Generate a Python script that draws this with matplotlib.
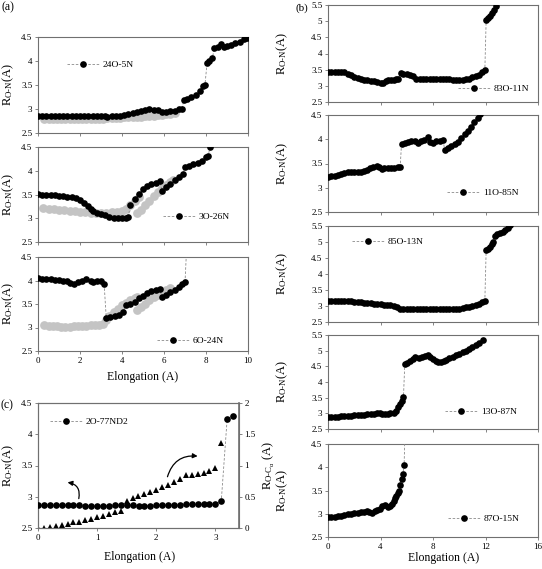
import numpy as np
import matplotlib
matplotlib.use("Agg")
import matplotlib.pyplot as plt
from matplotlib.ticker import FuncFormatter

plt.rcParams['font.family'] = ['Liberation Serif', 'DejaVu Serif']
plt.rcParams['mathtext.fontset'] = 'custom'
plt.rcParams['mathtext.rm'] = 'Liberation Serif'
plt.rcParams['mathtext.it'] = 'Liberation Serif:italic'

# ---------------- data ----------------
# (a) top: 24O-5N
a1_x = [0, 0.2, 0.4, 0.6, 0.8, 1.0, 1.2, 1.4, 1.6, 1.8, 2.0, 2.2, 2.4, 2.6, 2.8, 3.0, 3.2, 3.3, 3.5, 3.7,
        3.9, 4.1, 4.3, 4.5, 4.7, 4.9, 5.1, 5.3, 5.5, 5.7, 5.9, 6.1, 6.3, 6.5, 6.7, 6.85,
        6.95, 7.1, 7.3, 7.5, 7.7, 7.85, 7.95,
        8.05, 8.15, 8.3, 8.4, 8.55, 8.7, 8.85, 9.0, 9.2, 9.4, 9.6, 9.8, 9.95]
a1_y = [2.85, 2.85, 2.85, 2.85, 2.85, 2.85, 2.85, 2.85, 2.85, 2.85, 2.85, 2.85, 2.85, 2.85, 2.85, 2.85, 2.85, 2.84, 2.85, 2.85,
        2.86, 2.87, 2.90, 2.92, 2.94, 2.96, 2.97, 2.99, 2.98, 2.97, 2.93, 2.93, 2.95, 2.96, 2.99, 3.01,
        3.19, 3.21, 3.25, 3.30, 3.38, 3.47, 3.50,
        3.96, 4.00, 4.06, 4.27, 4.30, 4.36, 4.30, 4.31, 4.34, 4.37, 4.40, 4.45, 4.48]
a1_gx = [0.3, 0.5, 0.7, 0.9, 1.1, 1.3, 1.5, 1.7, 1.9, 2.1, 2.3, 2.5, 2.7, 2.9, 3.1, 3.3, 3.5, 3.7, 3.9, 4.1,
         4.3, 4.5, 4.7, 4.9, 5.1, 5.3, 5.5, 5.7, 5.9, 6.1, 6.3, 6.5]
a1_gy = [2.79, 2.79, 2.79, 2.79, 2.79, 2.79, 2.80, 2.80, 2.80, 2.80, 2.80, 2.80, 2.80, 2.80, 2.80, 2.81, 2.81, 2.81, 2.82, 2.83,
         2.84, 2.83, 2.83, 2.84, 2.85, 2.85, 2.86, 2.87, 2.88, 2.89, 2.90, 2.92]

# (a) middle: 3O-26N
a2_x = [0, 0.2, 0.4, 0.6, 0.8, 1.0, 1.2, 1.4, 1.6, 1.8, 2.0, 2.2, 2.4, 2.5, 2.6, 2.8, 3.0, 3.2, 3.4, 3.6,
        3.8, 4.0, 4.2, 4.3,
        4.4, 4.6, 4.8, 5.0, 5.2, 5.4, 5.6, 5.8,
        5.9, 6.1, 6.3, 6.5, 6.7, 6.9, 7.0, 7.2, 7.4, 7.6, 7.8, 8.0, 8.1, 8.2]
a2_y = [3.51, 3.50, 3.50, 3.49, 3.48, 3.47, 3.46, 3.45, 3.44, 3.42, 3.38, 3.32, 3.25, 3.20, 3.16, 3.12, 3.09, 3.06, 3.03, 3.00,
        3.00, 3.00, 3.01, 3.03,
        3.28, 3.40, 3.52, 3.62, 3.68, 3.73, 3.75, 3.79,
        3.58, 3.65, 3.72, 3.80, 3.87, 3.94, 4.07, 4.10, 4.14, 4.17, 4.20, 4.28, 4.32, 4.50]
a2_g1x = [0.25, 0.5, 0.75, 1.0, 1.25, 1.5, 1.75, 2.0, 2.25, 2.5, 2.75, 3.0, 3.25, 3.5, 3.75, 4.0, 4.2, 4.4, 4.6, 4.8]
a2_g1y = [3.22, 3.20, 3.19, 3.18, 3.17, 3.16, 3.15, 3.14, 3.13, 3.12, 3.12, 3.12, 3.12, 3.13, 3.14, 3.16, 3.20, 3.28, 3.36, 3.44]
a2_g2x = [4.7, 4.9, 5.1, 5.3, 5.5, 5.7, 5.9, 6.1, 6.3, 6.45]
a2_g2y = [3.12, 3.18, 3.27, 3.37, 3.46, 3.55, 3.63, 3.70, 3.76, 3.80]

# (a) bottom: 6O-24N
a3_x = [0, 0.2, 0.4, 0.6, 0.8, 1.0, 1.2, 1.4, 1.5, 1.7, 1.9, 2.1, 2.3, 2.5, 2.6, 2.8, 3.0, 3.15,
        3.25, 3.45, 3.65, 3.85, 4.05,
        4.2, 4.4, 4.6, 4.8, 5.0, 5.2, 5.4, 5.6, 5.8,
        5.9, 6.1, 6.3, 6.5, 6.7, 6.85, 7.0, 7.1]
a3_y = [4.05, 4.04, 4.04, 4.03, 4.02, 4.01, 4.00, 3.98, 3.94, 3.93, 3.96, 4.00, 4.03, 4.00, 3.96, 3.98, 4.00, 3.92,
        3.20, 3.22, 3.25, 3.27, 3.33,
        3.48, 3.50, 3.55, 3.62, 3.68, 3.73, 3.78, 3.80, 3.82,
        3.65, 3.70, 3.76, 3.80, 3.87, 3.92, 3.96, 4.90]
a3_g1x = [0.3, 0.5, 0.7, 0.9, 1.1, 1.3, 1.5, 1.7, 1.9, 2.1, 2.3, 2.5, 2.7, 2.9, 3.1, 3.25, 3.4, 3.6, 3.8, 4.0,
          4.2, 4.4, 4.6, 4.7]
a3_g1y = [3.05, 3.04, 3.03, 3.03, 3.02, 3.02, 3.02, 3.03, 3.03, 3.04, 3.04, 3.05, 3.05, 3.06, 3.08, 3.15, 3.25, 3.33, 3.40, 3.47,
          3.53, 3.58, 3.63, 3.65]
a3_g2x = [4.7, 4.9, 5.1, 5.3, 5.5, 5.7, 5.9, 6.1, 6.3]
a3_g2y = [3.37, 3.44, 3.51, 3.58, 3.65, 3.70, 3.75, 3.79, 3.84]

# (c) 2O-77ND2 and R_O-Calpha
c_x = [0, 0.1, 0.2, 0.3, 0.4, 0.5, 0.6, 0.7, 0.8, 0.9, 1.0, 1.1, 1.2, 1.3, 1.4, 1.5, 1.6, 1.7, 1.8, 1.9,
       2.0, 2.1, 2.2, 2.3, 2.4, 2.5, 2.6, 2.7, 2.8, 2.9, 3.0, 3.1, 3.2, 3.3]
c_y = [2.87, 2.87, 2.87, 2.87, 2.87, 2.87, 2.87, 2.87, 2.86, 2.85, 2.86, 2.85, 2.86, 2.87, 2.87, 2.87, 2.87, 2.86, 2.86, 2.86,
       2.87, 2.87, 2.87, 2.87, 2.87, 2.88, 2.88, 2.88, 2.88, 2.88, 2.88, 2.93, 4.25, 4.29]
c_tx = [0, 0.1, 0.2, 0.3, 0.4, 0.5, 0.6, 0.7, 0.8, 0.9, 1.0, 1.1, 1.2, 1.3, 1.4, 1.5, 1.6, 1.7, 1.8, 1.9,
        2.0, 2.1, 2.2, 2.3, 2.4, 2.5, 2.6, 2.7, 2.8, 2.9, 3.0, 3.1]
c_ty = [0.0, 0.0, 0.01, 0.03, 0.055, 0.07, 0.09, 0.10, 0.13, 0.15, 0.17, 0.19, 0.22, 0.25, 0.28, 0.43, 0.475, 0.52, 0.55, 0.58,
        0.61, 0.65, 0.69, 0.74, 0.79, 0.85, 0.85, 0.86, 0.875, 0.92, 0.955, 1.355]

# (b) 83O-11N
b1_x = [0, 0.25, 0.5, 0.75, 1.0, 1.25, 1.5, 1.75, 2.0, 2.25, 2.5, 2.75, 3.0, 3.25, 3.5, 3.75, 4.0, 4.2, 4.4, 4.6,
        4.8, 5.0, 5.2, 5.35,
        5.55, 5.75, 6.0, 6.25, 6.5, 6.7, 7.0, 7.25, 7.5, 7.75, 8.0, 8.25, 8.5, 8.75, 9.0, 9.25,
        9.5, 9.75, 10.0, 10.25, 10.5, 10.75, 11.0, 11.25, 11.5, 11.75, 11.95,
        12.05, 12.2, 12.35, 12.5, 12.65, 12.8]
b1_y = [3.44, 3.44, 3.44, 3.44, 3.44, 3.43, 3.38, 3.32, 3.28, 3.25, 3.22, 3.19, 3.17, 3.15, 3.14, 3.12, 3.10, 3.10, 3.16, 3.18,
        3.18, 3.19, 3.20, 3.21,
        3.41, 3.38, 3.36, 3.34, 3.30, 3.22, 3.21, 3.21, 3.21, 3.22, 3.22, 3.21, 3.21, 3.22, 3.21, 3.20,
        3.19, 3.19, 3.19, 3.19, 3.20, 3.22, 3.26, 3.30, 3.35, 3.42, 3.49,
        5.03, 5.10, 5.17, 5.24, 5.35, 5.48]

# (b) 11O-85N
b2_x = [0, 0.25, 0.5, 0.75, 1.0, 1.25, 1.5, 1.75, 2.0, 2.25, 2.5, 2.75, 3.0, 3.2, 3.45, 3.7, 3.9, 4.1, 4.3, 4.55,
        4.8, 5.05, 5.3, 5.5,
        5.6, 5.85, 6.1, 6.35, 6.6, 6.85, 7.1, 7.35, 7.6, 7.8, 8.0, 8.25, 8.5, 8.75,
        8.9, 9.15, 9.4, 9.65, 9.9, 10.15, 10.4, 10.65, 10.9, 11.15, 11.4, 11.6]
b2_y = [3.23, 3.24, 3.25, 3.27, 3.29, 3.30, 3.32, 3.33, 3.33, 3.33, 3.33, 3.34, 3.36, 3.41, 3.43, 3.45, 3.42, 3.38, 3.40, 3.41,
        3.41, 3.41, 3.42, 3.43,
        3.90, 3.93, 3.94, 3.96, 3.97, 3.93, 3.96, 3.99, 4.04, 3.95, 3.93, 3.96, 3.97, 3.99,
        3.78, 3.82, 3.86, 3.90, 3.95, 4.02, 4.10, 4.18, 4.26, 4.35, 4.44, 4.52]

# (b) 85O-13N
b3_x = [0, 0.25, 0.5, 0.75, 1.0, 1.25, 1.5, 1.75, 2.0, 2.25, 2.5, 2.75, 3.0, 3.25, 3.5, 3.75, 4.0, 4.25, 4.5, 4.75,
        5.0, 5.25, 5.5, 5.75, 6.0, 6.25, 6.5, 6.75, 7.0, 7.25, 7.5, 7.75, 8.0, 8.25, 8.5, 8.75, 9.0, 9.25, 9.5, 9.75,
        10.0, 10.25, 10.5, 10.75, 11.0, 11.25, 11.5, 11.75, 11.95,
        12.05, 12.2, 12.35, 12.5, 12.6, 12.75, 12.9, 13.1, 13.3, 13.5, 13.7, 13.9]
b3_y = [3.16, 3.16, 3.16, 3.16, 3.16, 3.16, 3.16, 3.16, 3.14, 3.11, 3.11, 3.10, 3.09, 3.08, 3.07, 3.06, 3.05, 3.04, 3.03, 3.02,
        3.00, 2.96, 2.92, 2.92, 2.92, 2.92, 2.92, 2.92, 2.92, 2.92, 2.92, 2.92, 2.92, 2.92, 2.92, 2.92, 2.92, 2.92, 2.92, 2.92,
        2.92, 2.94, 2.96, 2.98, 3.00, 3.03, 3.07, 3.12, 3.16,
        4.75, 4.78, 4.85, 4.95, 5.00, 5.20, 5.25, 5.27, 5.30, 5.37, 5.44, 5.52]

# (b) 13O-87N
b4_x = [0, 0.25, 0.5, 0.75, 1.0, 1.25, 1.5, 1.75, 2.0, 2.25, 2.5, 2.75, 3.0, 3.25, 3.5, 3.75, 3.95, 4.15, 4.35, 4.55,
        4.75, 5.0, 5.2, 5.35, 5.5, 5.6, 5.75,
        5.85, 6.05, 6.25, 6.45, 6.65, 6.9, 7.15, 7.4, 7.6, 7.8, 8.0, 8.2, 8.4, 8.6, 8.8, 9.0, 9.25, 9.5, 9.75,
        10.0, 10.25, 10.5, 10.75, 11.0, 11.25, 11.5, 11.8]
b4_y = [2.88, 2.88, 2.88, 2.89, 2.90, 2.91, 2.92, 2.93, 2.94, 2.95, 2.95, 2.96, 2.97, 2.98, 2.99, 3.01, 3.02, 2.98, 2.97, 2.99,
        3.00, 3.02, 3.06, 3.20, 3.30, 3.40, 3.53,
        4.58, 4.60, 4.66, 4.75, 4.80, 4.78, 4.80, 4.84, 4.86, 4.80, 4.72, 4.66, 4.63, 4.63, 4.66, 4.70, 4.76, 4.81, 4.86,
        4.90, 4.95, 5.00, 5.06, 5.12, 5.18, 5.25, 5.33]

# (b) 87O-15N
b5_x = [0, 0.25, 0.5, 0.75, 1.0, 1.25, 1.5, 1.75, 2.0, 2.25, 2.5, 2.75, 2.95, 3.15, 3.35, 3.55, 3.75, 3.95, 4.15, 4.35,
        4.55, 4.7, 4.85, 5.0, 5.1, 5.2, 5.3, 5.4, 5.5, 5.6, 5.7, 5.8, 5.9]
b5_y = [2.92, 2.93, 2.94, 2.95, 2.96, 2.98, 2.99, 3.00, 3.01, 3.02, 3.03, 3.04, 3.06, 3.03, 3.01, 3.05, 3.08, 3.11, 3.17, 3.19,
        3.15, 3.17, 3.22, 3.28, 3.33, 3.38, 3.44, 3.50, 3.62, 3.74, 3.85, 4.04, 5.20]

labels_a = ['24O-5N', '3O-26N', '6O-24N']
labels_b = ['83O-11N', '11O-85N', '85O-13N', '13O-87N', '87O-15N']
label_c = '2O-77ND2'

# ---------------- styling ----------------
W, H = 542, 569
fig = plt.figure(figsize=(W / 100, H / 100), dpi=100)

SPINE = '#707070'
DASH = '#8a8a8a'
GRAY = '#c4c4c4'
TICKFS = 6.5
YLFS = 9
LEGFS = 6.8
fmt = FuncFormatter(lambda v, p: '%g' % v)


def ax_px(l, t, r, b):
    return fig.add_axes([l / W, 1 - b / H, (r - l) / W, (b - t) / H])


def style(ax):
    for s in ax.spines.values():
        s.set_color(SPINE)
        s.set_linewidth(0.8)
    ax.tick_params(direction='out', length=2.5, width=0.6, color=SPINE,
                   labelsize=TICKFS, pad=1.5)
    ax.yaxis.set_major_formatter(fmt)
    ax.xaxis.set_major_formatter(fmt)


def black(ax, x, y, label):
    ln, = ax.plot(x, y, linestyle=(0, (3, 2)), color=DASH, lw=0.6,
                  marker='o', markersize=4.8, markerfacecolor='black',
                  markeredgecolor='black', markeredgewidth=0, label=label, zorder=3)
    return ln


def gray(ax, x, y):
    ax.plot(x, y, linestyle='none', marker='o', markersize=6.3,
            markerfacecolor=GRAY, markeredgewidth=0, color=GRAY, zorder=2)


def legend(ax, ln, ax_x, ax_y):
    ax.legend(handles=[ln], loc='center left', bbox_to_anchor=(ax_x, ax_y),
              frameon=False, borderpad=0, borderaxespad=0, handlelength=3.4,
              handletextpad=0.4, numpoints=1, fontsize=LEGFS)


ylab = 'R$_{\\rm O\u2010N}$(A)'

# ---- panel (a) ----
a_axes = [ax_px(38, 37, 248, 133), ax_px(38, 147, 248, 242), ax_px(38, 257, 248, 351)]
a_data = [(a1_x, a1_y, [(a1_gx, a1_gy)]),
          (a2_x, a2_y, [(a2_g1x, a2_g1y), (a2_g2x, a2_g2y)]),
          (a3_x, a3_y, [(a3_g1x, a3_g1y), (a3_g2x, a3_g2y)])]
a_leg = [(0.138, 0.708), (0.595, 0.263), (0.567, 0.106)]
for i, ax in enumerate(a_axes):
    style(ax)
    bx, by, gl = a_data[i]
    for gx, gy in gl:
        gray(ax, gx, gy)
    ln = black(ax, bx, by, labels_a[i])
    ax.set_xlim(0, 10)
    ax.set_ylim(2.5, 4.5)
    ax.set_xticks(np.arange(0, 11, 2))
    ax.set_yticks([2.5, 3, 3.5, 4, 4.5])
    if i < 2:
        ax.tick_params(labelbottom=False)
    ax.set_ylabel(ylab, fontsize=YLFS, va='center')
    ax.yaxis.set_label_coords(-0.143, 0.5)
    legend(ax, ln, *a_leg[i])
a_axes[2].set_xlabel('Elongation (A)', fontsize=8.5)
a_axes[2].xaxis.set_label_coords(0.5, -0.215)

# ---- panel (c) ----
axc = ax_px(38, 403, 239, 528)
style(axc)
axc2 = axc.twinx()
style(axc2)
axc2.plot(c_tx, c_ty, linestyle='none', marker='^', markersize=4.2,
          color='black', markeredgewidth=0, zorder=3)
lnc = black(axc, c_x, c_y, label_c)
axc.set_zorder(axc2.get_zorder() + 1)
axc.patch.set_visible(False)
axc.set_xlim(0, 3.4)
axc.set_ylim(2.5, 4.5)
axc.set_xticks([0, 1, 2, 3])
axc.set_yticks([2.5, 3, 3.5, 4, 4.5])
axc2.set_ylim(0, 2)
axc2.set_yticks([0, 0.5, 1, 1.5, 2])
axc2.spines['right'].set_linewidth(1.2)
axc.set_ylabel(ylab, fontsize=YLFS, va='center')
axc.yaxis.set_label_coords(-0.15, 0.5)
axc2.set_ylabel('R$_{\\rm O\u2010C_{\\alpha}}$ (A)', fontsize=YLFS, va='center', rotation=90)
axc2.yaxis.set_label_coords(1.15, 0.5)
axc.set_xlabel('Elongation (A)', fontsize=8.5)
axc.xaxis.set_label_coords(0.507, -0.185)
legend(axc, lnc, 0.06, 0.848)
axc.annotate('', xy=(0.50, 3.23), xytext=(0.69, 2.97),
             arrowprops=dict(arrowstyle='-|>', color='black', lw=0.9,
                             mutation_scale=7, connectionstyle='arc3,rad=0.5',
                             shrinkA=0, shrinkB=0))
axc.annotate('', xy=(2.70, 3.65), xytext=(2.19, 3.32),
             arrowprops=dict(arrowstyle='-|>', color='black', lw=0.9,
                             mutation_scale=7, connectionstyle='arc3,rad=-0.4',
                             shrinkA=0, shrinkB=0))

# ---- panel (b) ----
b_rects = [(328, 5, 538, 102), (328, 115, 538, 212), (328, 226, 538, 322),
           (328, 335, 538, 429), (328, 444, 538, 537)]
b_data = [(b1_x, b1_y), (b2_x, b2_y), (b3_x, b3_y), (b4_x, b4_y), (b5_x, b5_y)]
b_ylim = [(2.5, 5.5), (2.5, 4.5), (2.5, 5.5), (2.5, 5.5), (2.5, 4.5)]
b_leg = [(0.619, 0.134), (0.567, 0.196), (0.114, 0.833), (0.557, 0.18), (0.571, 0.194)]
b_axes = []
for i, r in enumerate(b_rects):
    ax = ax_px(*r)
    b_axes.append(ax)
    style(ax)
    ln = black(ax, b_data[i][0], b_data[i][1], labels_b[i])
    ax.set_xlim(0, 16)
    ax.set_ylim(*b_ylim[i])
    ax.set_xticks([0, 4, 8, 12, 16])
    ax.set_yticks(np.arange(b_ylim[i][0], b_ylim[i][1] + 0.01, 0.5))
    if i < 4:
        ax.tick_params(labelbottom=False)
    ax.set_ylabel(ylab, fontsize=YLFS, va='center')
    ax.yaxis.set_label_coords(-0.219, 0.5)
    legend(ax, ln, *b_leg[i])
b_axes[4].set_xlabel('Elongation (A)', fontsize=8.5)
b_axes[4].xaxis.set_label_coords(0.548, -0.16)

# panel letters
fig.text(8 / W, 1 - 7 / H, '(a)', fontsize=8.5, ha='center', va='center')
fig.text(302 / W, 1 - 8 / H, '(b)', fontsize=8, ha='center', va='center')
fig.text(7 / W, 1 - 405 / H, '(c)', fontsize=8.5, ha='center', va='center')

fig.savefig('out.png', dpi=100)
